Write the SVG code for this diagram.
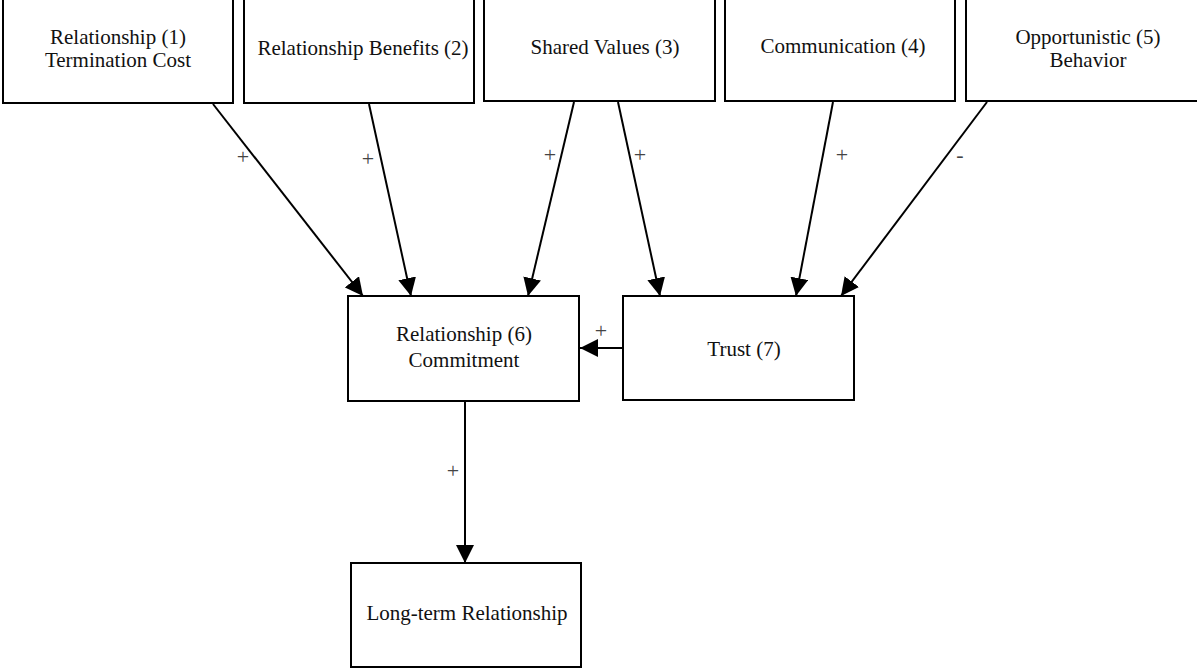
<svg xmlns="http://www.w3.org/2000/svg" width="1197" height="669" viewBox="0 0 1197 669">
<style>
.box{fill:#fff;stroke:#000;stroke-width:2}
.t{font-family:'Liberation Serif','Times New Roman',serif;font-size:21px;fill:#111;text-anchor:middle}
.lbl{font-family:'Liberation Serif','Times New Roman',serif;font-size:22px;fill:#444;text-anchor:middle}
.c{stroke:#000;stroke-width:2;fill:none;marker-end:url(#ah)}
</style>
<defs>
<marker id="ah" viewBox="0 0 18 18" refX="18" refY="9" markerWidth="18" markerHeight="18" markerUnits="userSpaceOnUse" orient="auto">
<path d="M0,0 L18,9 L0,18 z" fill="#000"/>
</marker>
</defs>
<rect width="1197" height="669" fill="#fff"/>
<g id="n1"><rect class="box" x="3" y="-2" width="230" height="105"/><text class="t" x="118" y="44">Relationship (1)</text><text class="t" x="118" y="67">Termination Cost</text></g>
<g id="n2"><rect class="box" x="244" y="-2" width="230" height="105"/><text class="t" x="363" y="55">Relationship Benefits (2)</text></g>
<g id="n3"><rect class="box" x="484" y="-2" width="231" height="103"/><text class="t" x="605" y="54">Shared Values (3)</text></g>
<g id="n4"><rect class="box" x="725" y="-2" width="230" height="103"/><text class="t" x="843" y="53">Communication (4)</text></g>
<g id="n5"><rect class="box" x="966" y="-2" width="232" height="103"/><text class="t" x="1088" y="44">Opportunistic (5)</text><text class="t" x="1088" y="67">Behavior</text></g>
<g id="n6"><rect class="box" x="348" y="296" width="231" height="105"/><text class="t" x="464" y="341">Relationship (6)</text><text class="t" x="464" y="367">Commitment</text></g>
<g id="n7"><rect class="box" x="623" y="296" width="231" height="104"/><text class="t" x="744" y="356">Trust (7)</text></g>
<g id="n8"><rect class="box" x="351" y="563" width="230" height="104"/><text class="t" x="467" y="620">Long-term Relationship</text></g>
<g id="connectors">
<line class="c" x1="213" y1="104" x2="363" y2="296"/>
<line class="c" x1="369" y1="104" x2="411" y2="296"/>
<line class="c" x1="574" y1="102" x2="528" y2="296"/>
<line class="c" x1="618" y1="102" x2="660" y2="296"/>
<line class="c" x1="833" y1="102" x2="796" y2="296"/>
<line class="c" x1="987" y1="102" x2="841" y2="296"/>
<line class="c" x1="623" y1="348" x2="580" y2="348"/>
<line class="c" x1="465" y1="402" x2="465" y2="563"/>
<text class="lbl" x="243" y="164">+</text>
<text class="lbl" x="368" y="166">+</text>
<text class="lbl" x="550" y="162">+</text>
<text class="lbl" x="640" y="162">+</text>
<text class="lbl" x="842" y="162">+</text>
<text class="lbl" x="960" y="162">-</text>
<text class="lbl" x="601" y="338">+</text>
<text class="lbl" x="453" y="478">+</text>
</g>
</svg>
